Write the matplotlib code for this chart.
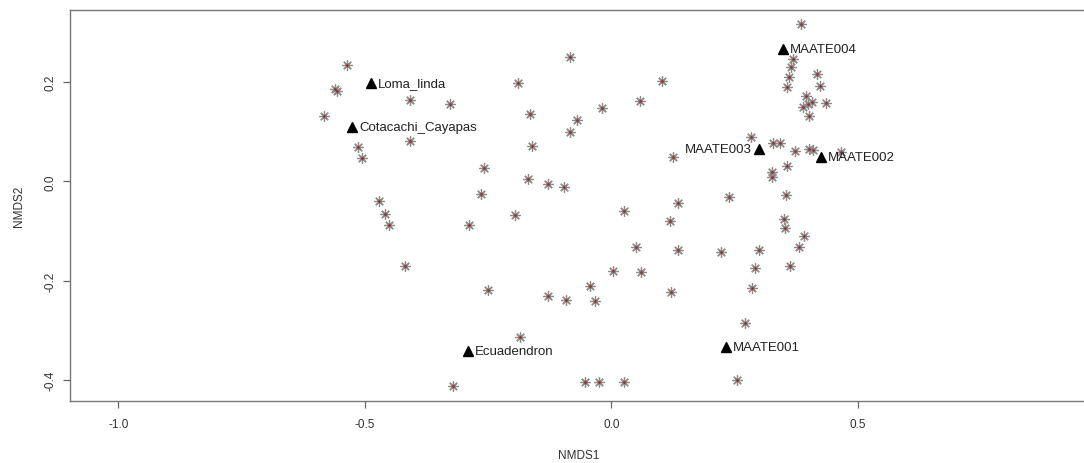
import matplotlib.pyplot as plt
import numpy as np

plt.rcParams['font.family'] = ['Liberation Sans', 'DejaVu Sans']

# Puntuaciones de especies (NMDS1, NMDS2)
sp_x = [-0.537, -0.561, -0.557, -0.583, -0.409, -0.327, -0.409, -0.514, -0.506, -0.258,
        -0.472, -0.459, -0.451, -0.419, -0.264, -0.289, -0.250, -0.185, -0.321, -0.169,
        -0.083, -0.189, 0.102, 0.059, -0.018, -0.165, -0.069, -0.083, -0.161, 0.126,
        -0.128, -0.096, -0.195, 0.026, 0.136, 0.120, 0.051, 0.136, 0.004, 0.061,
        -0.043, -0.128, -0.091, -0.033, 0.122, -0.053, -0.024, 0.026,
        0.384, 0.368, 0.364, 0.417, 0.360, 0.423, 0.356, 0.394, 0.435, 0.407,
        0.388, 0.400, 0.402, 0.283, 0.329, 0.343, 0.372, 0.402, 0.409, 0.465,
        0.356, 0.325, 0.325, 0.238, 0.354, 0.350, 0.352, 0.390, 0.380, 0.222,
        0.299, 0.291, 0.362, 0.285, 0.272, 0.256]
sp_y = [0.235, 0.186, 0.182, 0.132, 0.164, 0.156, 0.082, 0.069, 0.047, 0.027,
        -0.039, -0.065, -0.088, -0.170, -0.025, -0.088, -0.219, -0.313, -0.412, 0.005,
        0.251, 0.198, 0.202, 0.162, 0.148, 0.136, 0.124, 0.100, 0.072, 0.049,
        -0.005, -0.011, -0.067, -0.059, -0.043, -0.080, -0.132, -0.138, -0.180, -0.182,
        -0.210, -0.231, -0.239, -0.241, -0.223, -0.404, -0.404, -0.404,
        0.317, 0.247, 0.231, 0.217, 0.210, 0.192, 0.190, 0.172, 0.158, 0.160,
        0.150, 0.156, 0.132, 0.090, 0.078, 0.078, 0.061, 0.065, 0.063, 0.059,
        0.031, 0.019, 0.009, -0.031, -0.027, -0.076, -0.094, -0.110, -0.132, -0.142,
        -0.138, -0.174, -0.170, -0.215, -0.285, -0.400]

# Puntuaciones de sitios
sitios = ['Loma_linda', 'Cotacachi_Cayapas', 'Ecuadendron', 'MAATE001',
          'MAATE002', 'MAATE003', 'MAATE004']
site_x = [-0.488, -0.526, -0.291, 0.232, 0.425, 0.299, 0.348]
site_y = [0.198, 0.110, -0.341, -0.333, 0.049, 0.065, 0.267]

fig = plt.figure(figsize=(10.84, 4.64), dpi=100)
ax = fig.add_axes([70 / 1084, 62 / 464, 1018 / 1084, 391 / 464])

# especies: asterisco gris con punto rojo
ax.plot(sp_x, sp_y, linestyle='none', marker=(8, 2, 0), markersize=7.5,
        markeredgecolor='#8c8c8c', markeredgewidth=0.9)
ax.plot(sp_x, sp_y, linestyle='none', marker='o', markersize=2.0,
        markerfacecolor='#9e2a2a', markeredgewidth=0)

# sitios
ax.plot(site_x, site_y, linestyle='none', marker='^', markersize=7.5, color='black')
for nombre, x, y in zip(sitios, site_x, site_y):
    if nombre == 'MAATE003':
        ax.annotate(nombre, (x, y), xytext=(-5, 0), textcoords='offset points',
                    ha='right', va='center', fontsize=9.5, color='#222222')
    else:
        ax.annotate(nombre, (x, y), xytext=(5, 0), textcoords='offset points',
                    ha='left', va='center', fontsize=9.5, color='#222222')

ax.set_xlim(-1.098, 0.967)
ax.set_ylim(-0.442, 0.345)
ax.set_xticks([-1.0, -0.5, 0.0, 0.5])
ax.set_yticks([-0.4, -0.2, 0.0, 0.2])
ax.set_xticklabels(['-1.0', '-0.5', '0.0', '0.5'])
ax.set_yticklabels(['-0.4', '-0.2', '0.0', '0.2'], rotation=90, va='center')
ax.tick_params(direction='out', length=5, width=0.9, color='#666666',
               labelsize=8.5, labelcolor='#333333')
ax.tick_params(axis='x', pad=7)
ax.tick_params(axis='y', pad=5)
for s in ax.spines.values():
    s.set_color('#777777')
    s.set_linewidth(1.0)

ax.set_xlabel('NMDS1', fontsize=8.5, color='#333333', labelpad=14)
ax.set_ylabel('NMDS2', fontsize=8.5, color='#333333', labelpad=14)

plt.savefig('out.png', dpi=100)
